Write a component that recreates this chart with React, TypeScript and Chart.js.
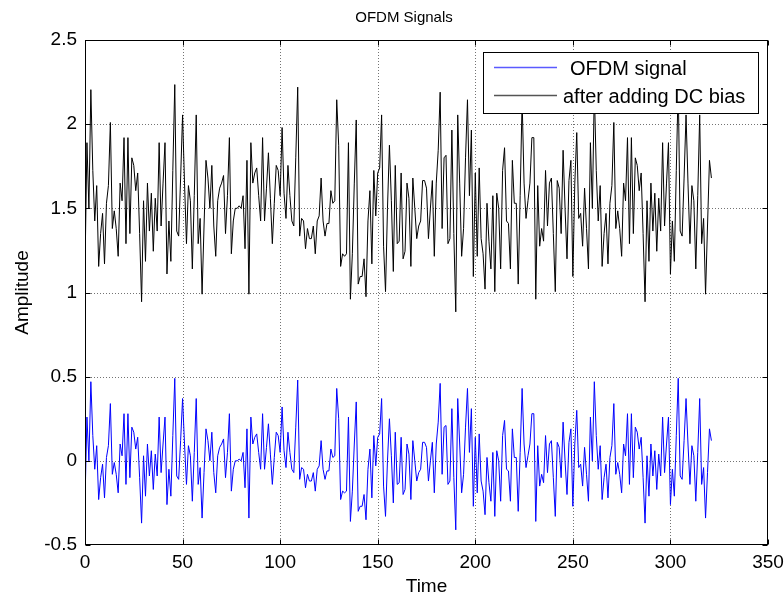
import React, { useEffect, useRef } from "react";
import { Chart, registerables } from "chart.js";

Chart.register(...registerables);

const FONT = "'Liberation Sans', Arial, Helvetica, sans-serif";

const chartTitle = "OFDM Signals";
const xAxisTitle = "Time";
const yAxisTitle = "Amplitude";
const seriesNames = ["OFDM signal", "after adding DC bias"];
const xTicks = [0, 50, 100, 150, 200, 250, 300, 350];
const yTicks = [-0.5, 0, 0.5, 1, 1.5, 2, 2.5];
const timeStart = 0;

// OFDM signal (blue)
const ofdmSignal = [
  -0.24, 0.26, 0.0, 0.47, 0.15, -0.05, 0.09, -0.23, -0.1, -0.02,
  -0.22, 0.02, 0.09, 0.34, -0.08, -0.01, -0.08, -0.19, 0.1, 0.03,
  0.28, -0.14, 0.28, -0.1, 0.2, 0.17, 0.07, 0.14, -0.1, -0.37,
  0.03, -0.21, 0.1, -0.09, 0.06, -0.17, 0.04, -0.09, 0.26, -0.07,
  0.1, 0.26, -0.26, -0.05, -0.21, 0.15, 0.49, -0.09, -0.11, 0.12,
  0.37, 0.1, -0.14, 0.09, 0.03, -0.24, 0.05, 0.37, -0.14, -0.04,
  -0.34, -0.07, 0.19, 0.12, 0.0, 0.17, -0.07, -0.19, 0.03, 0.08,
  0.1, 0.13, -0.1, 0.05, 0.28, -0.18, -0.05, 0.0, 0.0, 0.01,
  0.0, 0.05, -0.16, 0.19, -0.34, 0.26, 0.1, 0.14, 0.16, 0.05,
  -0.05, 0.28, -0.05, 0.08, 0.22, 0.04, -0.14, 0.02, 0.17, 0.15,
  0.05, 0.32, 0.06, -0.04, 0.17, 0.05, -0.05, -0.07, 0.2, 0.48,
  -0.11, -0.04, -0.05, -0.16, -0.08, -0.12, -0.12, -0.07, -0.18, -0.05,
  -0.03, 0.12, -0.05, -0.11, -0.06, -0.06, 0.07, 0.02, 0.03, 0.43,
  0.25, -0.23, -0.18, -0.19, -0.18, 0.26, -0.36, -0.18, 0.1, 0.35,
  -0.3, -0.27, -0.27, -0.2, -0.35, -0.05, 0.07, -0.22, 0.15, -0.03,
  0.14, 0.16, 0.37, -0.15, -0.33, 0.0, 0.25, 0.03, -0.25, 0.17,
  -0.14, -0.13, 0.14, -0.2, -0.17, 0.1, 0.04, -0.23, 0.12, 0.0,
  -0.12, -0.07, -0.05, 0.11, 0.11, 0.08, -0.12, 0.0, 0.11, -0.19,
  0.1, 0.23, 0.46, -0.08, 0.2, 0.21, -0.14, -0.12, 0.31, -0.1,
  -0.41, 0.37, 0.1, -0.19, -0.08, 0.2, 0.43, 0.05, 0.31, -0.27,
  0.14, -0.19, 0.16, -0.12, -0.18, -0.32, 0.02, -0.13, -0.24, 0.05,
  -0.33, 0.06, 0.0, -0.24, 0.15, 0.24, -0.05, -0.06, -0.24, 0.19,
  0.02, 0.02, -0.3, 0.05, 0.43, 0.1, -0.04, 0.03, 0.1, 0.28,
  0.28, -0.36, 0.09, -0.15, -0.08, -0.13, 0.15, -0.07, 0.1, 0.12,
  -0.1, -0.33, 0.11, 0.08, -0.1, 0.23, 0.0, -0.2, 0.11, 0.19,
  -0.27, 0.1, 0.3, -0.04, -0.02, -0.15, 0.08, -0.08,
  -0.24, 0.26, 0.0, 0.47, 0.15, -0.05, 0.09, -0.23, -0.1, -0.02,
  -0.22, 0.02, 0.09, 0.34, -0.08, -0.01, -0.08, -0.19, 0.1, 0.03,
  0.28, -0.14, 0.28, -0.1, 0.2, 0.17, 0.07, 0.14, -0.1, -0.37,
  0.03, -0.21, 0.1, -0.09, 0.06, -0.17, 0.04, -0.09, 0.26, -0.07,
  0.1, 0.26, -0.26, -0.05, -0.21, 0.15, 0.49, -0.09, -0.11, 0.12,
  0.37, 0.1, -0.14, 0.09, 0.03, -0.24, 0.05, 0.37, -0.14, -0.04,
  -0.34, -0.07, 0.19, 0.12,
];

// Same signal after adding the DC bias (black)
const dcBiased = [
  1.14, 1.89, 1.5, 2.205, 1.725, 1.425, 1.635, 1.155, 1.35, 1.47,
  1.17, 1.53, 1.635, 2.01, 1.38, 1.485, 1.38, 1.215, 1.65, 1.545,
  1.92, 1.29, 1.92, 1.35, 1.8, 1.755, 1.605, 1.71, 1.35, 0.945,
  1.545, 1.185, 1.65, 1.365, 1.59, 1.245, 1.56, 1.365, 1.89, 1.395,
  1.65, 1.89, 1.11, 1.425, 1.185, 1.725, 2.235, 1.365, 1.335, 1.68,
  2.055, 1.65, 1.29, 1.635, 1.545, 1.14, 1.575, 2.055, 1.29, 1.44,
  0.99, 1.395, 1.785, 1.68, 1.5, 1.755, 1.395, 1.215, 1.545, 1.62,
  1.65, 1.695, 1.35, 1.575, 1.92, 1.23, 1.425, 1.5, 1.5, 1.515,
  1.5, 1.575, 1.26, 1.785, 0.99, 1.89, 1.65, 1.71, 1.74, 1.575,
  1.425, 1.92, 1.425, 1.62, 1.83, 1.56, 1.29, 1.53, 1.755, 1.725,
  1.575, 1.98, 1.59, 1.44, 1.755, 1.575, 1.425, 1.395, 1.8, 2.22,
  1.335, 1.44, 1.425, 1.26, 1.38, 1.32, 1.32, 1.395, 1.23, 1.425,
  1.455, 1.68, 1.425, 1.335, 1.41, 1.41, 1.605, 1.53, 1.545, 2.145,
  1.875, 1.155, 1.23, 1.215, 1.23, 1.89, 0.96, 1.23, 1.65, 2.025,
  1.05, 1.095, 1.095, 1.2, 0.975, 1.425, 1.605, 1.17, 1.725, 1.455,
  1.71, 1.74, 2.055, 1.275, 1.005, 1.5, 1.875, 1.545, 1.125, 1.755,
  1.29, 1.305, 1.71, 1.2, 1.245, 1.65, 1.56, 1.155, 1.68, 1.5,
  1.32, 1.395, 1.425, 1.665, 1.665, 1.62, 1.32, 1.5, 1.665, 1.215,
  1.65, 1.845, 2.19, 1.38, 1.8, 1.815, 1.29, 1.32, 1.965, 1.35,
  0.885, 2.055, 1.65, 1.215, 1.38, 1.8, 2.145, 1.575, 1.965, 1.095,
  1.71, 1.215, 1.74, 1.32, 1.23, 1.02, 1.53, 1.305, 1.14, 1.575,
  1.005, 1.59, 1.5, 1.14, 1.725, 1.86, 1.425, 1.41, 1.14, 1.785,
  1.53, 1.53, 1.05, 1.575, 2.145, 1.65, 1.44, 1.545, 1.65, 1.92,
  1.92, 0.96, 1.635, 1.275, 1.38, 1.305, 1.725, 1.395, 1.65, 1.68,
  1.35, 1.005, 1.665, 1.62, 1.35, 1.845, 1.5, 1.2, 1.665, 1.785,
  1.095, 1.65, 1.95, 1.44, 1.47, 1.275, 1.62, 1.38,
  1.14, 1.89, 1.5, 2.205, 1.725, 1.425, 1.635, 1.155, 1.35, 1.47,
  1.17, 1.53, 1.635, 2.01, 1.38, 1.485, 1.38, 1.215, 1.65, 1.545,
  1.92, 1.29, 1.92, 1.35, 1.8, 1.755, 1.605, 1.71, 1.35, 0.945,
  1.545, 1.185, 1.65, 1.365, 1.59, 1.245, 1.56, 1.365, 1.89, 1.395,
  1.65, 1.89, 1.11, 1.425, 1.185, 1.725, 2.235, 1.365, 1.335, 1.68,
  2.055, 1.65, 1.29, 1.635, 1.545, 1.14, 1.575, 2.055, 1.29, 1.44,
  0.99, 1.395, 1.785, 1.68,
];

const seriesColors = ["#0000ff", "#000000"];
const legendLineColors = ["#5a5aff", "#555555"];

const framePlugin = {
  id: "matlabFrame",
  beforeDatasetsDraw(chart: any) {
    const { ctx, chartArea: a, scales } = chart;
    ctx.save();
    ctx.strokeStyle = "rgba(0,0,0,0.55)";
    ctx.lineWidth = 1;
    ctx.setLineDash([1, 2]);
    for (const v of xTicks) {
      const px = Math.round(scales.x.getPixelForValue(v)) + 0.5;
      if (px <= a.left + 1 || px >= a.right - 1) continue;
      ctx.beginPath();
      ctx.moveTo(px, a.top);
      ctx.lineTo(px, a.bottom);
      ctx.stroke();
    }
    for (const v of yTicks) {
      const py = Math.round(scales.y.getPixelForValue(v)) + 0.5;
      if (py <= a.top + 1 || py >= a.bottom - 1) continue;
      ctx.beginPath();
      ctx.moveTo(a.left, py);
      ctx.lineTo(a.right, py);
      ctx.stroke();
    }
    ctx.restore();
  },
  afterDatasetsDraw(chart: any) {
    const { ctx, chartArea: a, scales } = chart;
    ctx.save();
    ctx.strokeStyle = "#000";
    ctx.lineWidth = 1;
    ctx.setLineDash([]);
    const L = Math.round(a.left) + 0.5;
    const R = Math.round(a.right) - 0.5;
    const T = Math.round(a.top) + 0.5;
    const B = Math.round(a.bottom) - 0.5;
    ctx.strokeRect(L, T, R - L, B - T);
    const tl = 5;
    ctx.beginPath();
    for (const v of xTicks) {
      const px = Math.round(scales.x.getPixelForValue(v)) + 0.5;
      ctx.moveTo(px, B);
      ctx.lineTo(px, B - tl);
      ctx.moveTo(px, T);
      ctx.lineTo(px, T + tl);
    }
    for (const v of yTicks) {
      const py = Math.round(scales.y.getPixelForValue(v)) + 0.5;
      ctx.moveTo(L, py);
      ctx.lineTo(L + tl, py);
      ctx.moveTo(R, py);
      ctx.lineTo(R - tl, py);
    }
    ctx.stroke();
    ctx.restore();
  },
  afterDraw(chart: any) {
    const { ctx } = chart;
    ctx.save();
    // title
    ctx.fillStyle = "#000";
    ctx.font = `15px ${FONT}`;
    ctx.textAlign = "center";
    ctx.textBaseline = "middle";
    ctx.fillText(chartTitle, 404, 18);
    // legend
    const bx = 483.5, by = 52.5, bw = 275, bh = 61;
    ctx.fillStyle = "#fff";
    ctx.fillRect(bx, by, bw, bh);
    ctx.strokeStyle = "#000";
    ctx.lineWidth = 1;
    ctx.strokeRect(bx, by, bw, bh);
    const rows = [
      { y: 67.5, textX: 570 },
      { y: 95.5, textX: 563 },
    ];
    ctx.font = `20px ${FONT}`;
    ctx.textAlign = "left";
    ctx.textBaseline = "middle";
    seriesNames.forEach((name, i) => {
      const r = rows[i];
      ctx.strokeStyle = legendLineColors[i];
      ctx.lineWidth = 1.4;
      ctx.beginPath();
      ctx.moveTo(494, r.y);
      ctx.lineTo(557, r.y);
      ctx.stroke();
      ctx.fillStyle = "#000";
      ctx.fillText(name, r.textX, r.y + 1.5);
    });
    ctx.restore();
  },
};

export default function App() {
  const ref = useRef<HTMLCanvasElement | null>(null);
  useEffect(() => {
    document.body.style.margin = "0";
    const canvas = ref.current;
    if (!canvas) return;
    const tickFont = { family: FONT, size: 19 };
    const chart = new Chart(canvas, {
      type: "line",
      data: {
        datasets: [
          {
            label: seriesNames[0],
            data: ofdmSignal.map((v, i) => ({ x: timeStart + i, y: v })),
            borderColor: seriesColors[0],
            backgroundColor: seriesColors[0],
            borderWidth: 1,
            pointRadius: 0,
            tension: 0,
            fill: false,
          },
          {
            label: seriesNames[1],
            data: dcBiased.map((v, i) => ({ x: timeStart + i, y: v })),
            borderColor: seriesColors[1],
            backgroundColor: seriesColors[1],
            borderWidth: 1,
            pointRadius: 0,
            tension: 0,
            fill: false,
          },
        ],
      },
      options: {
        responsive: false,
        animation: false,
        devicePixelRatio: 1,
        layout: { padding: { left: 0, right: 16, top: 40, bottom: 0 } },
        plugins: {
          legend: { display: false },
          title: { display: false },
          tooltip: { enabled: false },
        },
        scales: {
          x: {
            type: "linear",
            min: 0,
            max: 350,
            afterBuildTicks: (s: any) => {
              s.ticks = xTicks.map((v) => ({ value: v }));
            },
            ticks: {
              font: tickFont,
              color: "#000",
              padding: 6,
              maxRotation: 0,
              autoSkip: false,
              callback: (v: any) => String(v),
            },
            grid: { display: false, drawTicks: false },
            border: { display: false },
            title: {
              display: true,
              text: xAxisTitle,
              color: "#000",
              font: { family: FONT, size: 19 },
              padding: { top: 0, bottom: 1 },
            },
            afterFit: (s: any) => {
              s.height = 54;
              s.paddingLeft = 0;
              s.paddingRight = 0;
            },
          },
          y: {
            type: "linear",
            min: -0.5,
            max: 2.5,
            afterBuildTicks: (s: any) => {
              s.ticks = yTicks.map((v) => ({ value: v }));
            },
            ticks: {
              font: tickFont,
              color: "#000",
              padding: 8,
              autoSkip: false,
              callback: (v: any) => String(v),
            },
            grid: { display: false, drawTicks: false },
            border: { display: false },
            title: {
              display: true,
              text: yAxisTitle,
              color: "#000",
              font: { family: FONT, size: 19 },
              padding: { top: 11, bottom: 0 },
            },
            afterFit: (s: any) => {
              s.width = 85;
              s.paddingTop = 0;
              s.paddingBottom = 0;
            },
          },
        },
      },
      plugins: [framePlugin],
    });
    return () => chart.destroy();
  }, []);
  return <canvas ref={ref} width={784} height={599} style={{ display: "block" }} />;
}
